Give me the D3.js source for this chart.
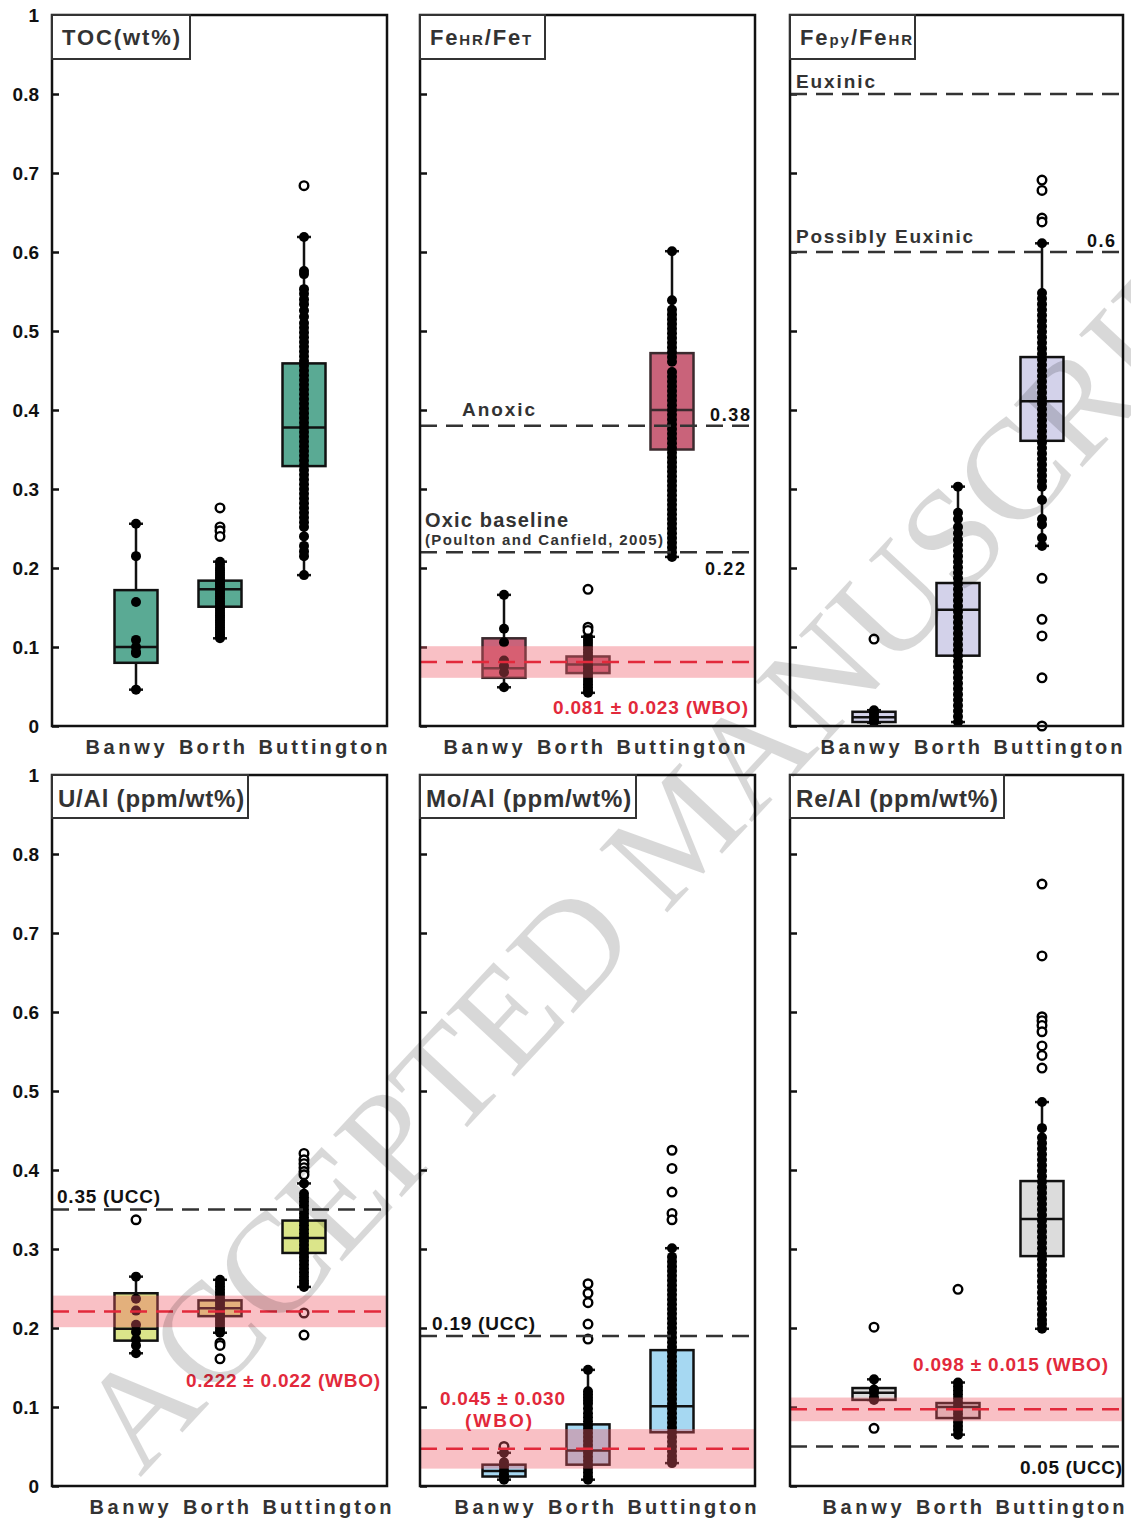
<!DOCTYPE html>
<html>
<head>
<meta charset="utf-8">
<script src="https://cdn.jsdelivr.net/npm/d3@7"></script>
<style>
body { margin: 0; background: #fff; }
svg { display: block; font-family: "Liberation Sans", Arial, sans-serif; font-weight: bold; }
</style>
</head>
<body>
<div id="chart"></div>
<script>
// categories and axis
var sites = ["Banwy", "Borth", "Buttington"];
var yTicks = [0, 0.1, 0.2, 0.3, 0.4, 0.5, 0.6, 0.7, 0.8, 0.9];
var yTickLabels = ["0", "0.1", "0.2", "0.3", "0.4", "0.5", "0.6", "0.7", "0.8", "1"];

// box stats per site: [q1, median, q3, whisker low, whisker high]
var tocBox = [[0.080, 0.100, 0.172, 0.046, 0.256], [0.151, 0.173, 0.184, 0.111, 0.208], [0.329, 0.378, 0.459, 0.191, 0.619]];
var tocDots = [
    [0.256, 0.215, 0.157, 0.109, 0.100, 0.094, 0.092, 0.046],
    [0.208, 0.204, 0.200, 0.197, 0.194, 0.191, 0.188, 0.185, 0.182, 0.179, 0.176, 0.173, 0.170, 0.167, 0.164, 0.161, 0.158, 0.155, 0.152, 0.149, 0.146, 0.143, 0.140, 0.137, 0.134, 0.131, 0.128, 0.125, 0.122, 0.119, 0.116, 0.113, 0.111],
    [0.619, 0.576, 0.572, 0.553, 0.547, 0.540, 0.534, 0.526, 0.518, 0.510, 0.504, 0.498, 0.492, 0.486, 0.480, 0.474, 0.468, 0.462, 0.456, 0.450, 0.444, 0.438, 0.432, 0.426, 0.420, 0.414, 0.408, 0.402, 0.396, 0.390, 0.384, 0.378, 0.372, 0.366, 0.360, 0.354, 0.348, 0.342, 0.336, 0.330, 0.324, 0.318, 0.312, 0.306, 0.300, 0.294, 0.288, 0.282, 0.276, 0.270, 0.264, 0.258, 0.252, 0.240, 0.228, 0.221, 0.215, 0.191]
];
var tocOut = [[], [0.276, 0.252, 0.247, 0.240], [0.684]];

var feBox = [[0.061, 0.073, 0.111, 0.049, 0.166], [0.067, 0.078, 0.088, 0.042, 0.113], [0.350, 0.400, 0.472, 0.214, 0.601]];
var feDots = [
    [0.166, 0.123, 0.106, 0.083, 0.076, 0.068, 0.049],
    [0.113, 0.109, 0.105, 0.101, 0.097, 0.093, 0.089, 0.085, 0.081, 0.077, 0.073, 0.069, 0.065, 0.061, 0.057, 0.053, 0.049, 0.045, 0.042],
    [0.601, 0.539, 0.527, 0.521, 0.515, 0.509, 0.503, 0.497, 0.491, 0.485, 0.479, 0.473, 0.467, 0.461, 0.448, 0.442, 0.436, 0.430, 0.424, 0.418, 0.412, 0.406, 0.400, 0.394, 0.388, 0.382, 0.376, 0.370, 0.364, 0.358, 0.352, 0.346, 0.340, 0.334, 0.328, 0.322, 0.316, 0.310, 0.304, 0.298, 0.292, 0.286, 0.280, 0.274, 0.268, 0.262, 0.256, 0.250, 0.244, 0.238, 0.232, 0.226, 0.220, 0.214]
];
var feOut = [[], [0.173, 0.125, 0.121], []];

var pyBox = [[0.005, 0.011, 0.018, 0.004, 0.020], [0.089, 0.147, 0.181, 0.005, 0.303], [0.361, 0.411, 0.467, 0.228, 0.611]];
var pyDots = [
    [0.020, 0.016, 0.012, 0.008, 0.005],
    [0.303, 0.270, 0.262, 0.252, 0.244, 0.236, 0.229, 0.222, 0.215, 0.208, 0.201, 0.194, 0.187, 0.180, 0.173, 0.166, 0.159, 0.152, 0.145, 0.138, 0.131, 0.124, 0.117, 0.110, 0.103, 0.096, 0.089, 0.082, 0.075, 0.068, 0.061, 0.054, 0.047, 0.040, 0.033, 0.026, 0.019, 0.012, 0.005],
    [0.611, 0.548, 0.541, 0.534, 0.527, 0.520, 0.513, 0.506, 0.499, 0.492, 0.485, 0.478, 0.471, 0.464, 0.457, 0.450, 0.443, 0.436, 0.429, 0.422, 0.415, 0.408, 0.401, 0.394, 0.387, 0.380, 0.373, 0.366, 0.359, 0.352, 0.345, 0.338, 0.331, 0.324, 0.317, 0.310, 0.303, 0.286, 0.262, 0.255, 0.238, 0.228]
];
var pyOut = [[0.110], [], [0.691, 0.678, 0.643, 0.638, 0.187, 0.135, 0.114, 0.061, 0.000]];

var uBox = [[0.184, 0.199, 0.244, 0.168, 0.265], [0.215, 0.225, 0.235, 0.194, 0.261], [0.295, 0.314, 0.336, 0.252, 0.383]];
var uDots = [
    [0.265, 0.237, 0.222, 0.204, 0.195, 0.185, 0.178, 0.168],
    [0.261, 0.257, 0.253, 0.249, 0.245, 0.241, 0.237, 0.233, 0.229, 0.225, 0.221, 0.217, 0.213, 0.209, 0.205, 0.201, 0.197, 0.194],
    [0.383, 0.370, 0.365, 0.360, 0.355, 0.350, 0.345, 0.340, 0.335, 0.330, 0.325, 0.320, 0.315, 0.310, 0.305, 0.300, 0.295, 0.290, 0.285, 0.280, 0.275, 0.270, 0.265, 0.260, 0.256, 0.252]
];
var uOut = [[0.337], [0.181, 0.178, 0.161], [0.421, 0.413, 0.408, 0.403, 0.398, 0.394, 0.219, 0.191]];

var moBox = [[0.012, 0.019, 0.027, 0.008, 0.042], [0.027, 0.045, 0.078, 0.008, 0.147], [0.068, 0.101, 0.172, 0.029, 0.301]];
var moDots = [
    [0.042, 0.030, 0.025, 0.020, 0.015, 0.010, 0.008],
    [0.147, 0.120, 0.116, 0.112, 0.108, 0.104, 0.098, 0.092, 0.087, 0.082, 0.077, 0.072, 0.067, 0.062, 0.057, 0.052, 0.047, 0.042, 0.037, 0.032, 0.027, 0.022, 0.017, 0.012, 0.008],
    [0.301, 0.290, 0.284, 0.278, 0.272, 0.266, 0.260, 0.254, 0.248, 0.242, 0.236, 0.230, 0.224, 0.218, 0.212, 0.206, 0.200, 0.194, 0.188, 0.182, 0.176, 0.170, 0.164, 0.158, 0.152, 0.146, 0.140, 0.134, 0.128, 0.122, 0.116, 0.110, 0.104, 0.098, 0.092, 0.086, 0.080, 0.074, 0.068, 0.062, 0.056, 0.050, 0.044, 0.038, 0.033, 0.029]
];
var moOut = [[0.050], [0.256, 0.244, 0.232, 0.205, 0.186], [0.425, 0.402, 0.372, 0.345, 0.337]];

var reBox = [[0.109, 0.118, 0.124, 0.109, 0.135], [0.086, 0.100, 0.105, 0.065, 0.131], [0.291, 0.338, 0.386, 0.199, 0.486]];
var reDots = [
    [0.135, 0.122, 0.118, 0.112, 0.109],
    [0.131, 0.126, 0.121, 0.116, 0.111, 0.106, 0.101, 0.096, 0.091, 0.086, 0.081, 0.076, 0.071, 0.065],
    [0.486, 0.453, 0.441, 0.434, 0.427, 0.420, 0.413, 0.406, 0.399, 0.392, 0.385, 0.378, 0.371, 0.364, 0.357, 0.350, 0.343, 0.336, 0.329, 0.322, 0.315, 0.308, 0.301, 0.294, 0.287, 0.280, 0.273, 0.266, 0.259, 0.252, 0.245, 0.238, 0.231, 0.224, 0.217, 0.210, 0.205, 0.199]
];
var reOut = [[0.201, 0.073], [0.249], [0.762, 0.671, 0.594, 0.589, 0.583, 0.575, 0.557, 0.545, 0.529]];

// reference values
var feThresholds = [0.38, 0.22];
var pyThresholds = [0.8, 0.6];
var uUCC = 0.35, moUCC = 0.19, reUCC = 0.05;
// WBO bands as drawn: [centre, half width]
var feWBO = [0.081, 0.020], uWBO = [0.221, 0.020], moWBO = [0.047, 0.025], reWBO = [0.097, 0.015];

var red = "#e2293b", ink = "#111", grey = "#333";

var panels = [
    {row: 0, col: 0, title: [["TOC(wt%)", 0]], tw: 138, tt: 120, fill: "#5aaa94", stroke: "#111",
     box: tocBox, dots: tocDots, out: tocOut, lines: [], band: null, notes: [], shift: 1},
    {row: 0, col: 1, title: [["Fe", 0], ["HR", 1], ["/Fe", 0], ["T", 1]], tw: 125, tt: 103, fill: "#c9637a", stroke: "#3b2a2e",
     box: feBox, dots: feDots, out: feOut, lines: feThresholds, band: feWBO, shift: -9,
     notes: [
        {t: "Anoxic", x: 42, v: 0.38, dy: -10, w: 73, fs: 19, c: grey},
        {t: "0.38", x: 330, v: 0.38, dy: -5, w: 40, fs: 18, c: ink, end: true},
        {t: "Oxic baseline", x: 5, v: 0.22, dy: -25, w: 143, fs: 20, c: grey},
        {t: "(Poulton and Canfield, 2005)", x: 5, v: 0.22, dy: -7, w: 238, fs: 15, c: grey},
        {t: "0.22", x: 325, v: 0.22, dy: 23, w: 40, fs: 18, c: ink, end: true},
        {t: "0.081 ± 0.023 (WBO)", x: 133, v: 0, dy: -12, w: 195, fs: 19, c: red}
     ]},
    {row: 0, col: 2, title: [["Fe", 0], ["py", 1], ["/Fe", 0], ["HR", 1]], tw: 125, tt: 114, fill: "#d3d2ea", stroke: "#111",
     box: pyBox, dots: pyDots, out: pyOut, lines: pyThresholds, band: null, shift: -2,
     notes: [
        {t: "Euxinic", x: 6, v: 0.8, dy: -6, w: 79, fs: 19, c: grey},
        {t: "Possibly Euxinic", x: 6, v: 0.6, dy: -9, w: 177, fs: 19, c: grey},
        {t: "0.6", x: 325, v: 0.6, dy: -5, w: 28, fs: 18, c: ink, end: true}
     ]},
    {row: 1, col: 0, title: [["U/Al (ppm/wt%)", 0]], tw: 196, tt: 187, fill: "#dbe58a", stroke: "#111",
     box: uBox, dots: uDots, out: uOut, lines: [uUCC], band: uWBO, shift: 5,
     notes: [
        {t: "0.35 (UCC)", x: 5, v: 0.35, dy: -7, w: 103, fs: 19, c: ink},
        {t: "0.222 ± 0.022 (WBO)", x: 134, v: 0.222, dy: 76, w: 194, fs: 19, c: red}
     ]},
    {row: 1, col: 1, title: [["Mo/Al (ppm/wt%)", 0]], tw: 216, tt: 206, fill: "#a6d8f2", stroke: "#111",
     box: moBox, dots: moDots, out: moOut, lines: [moUCC], band: moWBO, shift: 2,
     notes: [
        {t: "0.19 (UCC)", x: 12, v: 0.19, dy: -6, w: 103, fs: 19, c: ink},
        {t: "0.045 ± 0.030", x: 20, v: 0.045, dy: -45, w: 125, fs: 19, c: red},
        {t: "(WBO)", x: 45, v: 0.045, dy: -23, w: 67, fs: 19, c: red}
     ]},
    {row: 1, col: 2, title: [["Re/Al (ppm/wt%)", 0]], tw: 214, tt: 203, fill: "#dcdcdc", stroke: "#111",
     box: reBox, dots: reDots, out: reOut, lines: [reUCC], band: reWBO, shift: 0,
     notes: [
        {t: "0.098 ± 0.015 (WBO)", x: 123, v: 0.098, dy: -38, w: 195, fs: 19, c: red},
        {t: "0.05 (UCC)", x: 332, v: 0.05, dy: 27, w: 102, fs: 19, c: ink, end: true}
     ]}
];

var width = 1131, height = 1523;
var colX = [52, 420, 790], colW = [335, 335, 333];
var rowY = [15, 775], rowH = 711;
// x label centres (relative to panel left) and widths
var labelX = [72, 159, 270], labelW = [79, 66, 129];

var svg = d3.select("#chart").append("svg")
    .attr("width", width)
    .attr("height", height);

panels.forEach(function(p){
    var left = colX[p.col], top = rowY[p.row], w = colW[p.col], bottom = top + rowH;
    var y = d3.scaleLinear().domain([0, 0.9]).range([bottom, top]);
    var x = d3.scalePoint().domain(sites).range([left + 84, left + 252]);
    var g = svg.append("g");

    //axis with inward ticks, labels only on first column
    var ax = g.append("g")
        .attr("transform", "translate(" + left + ",0)")
        .call(d3.axisLeft(y).tickValues(yTicks).tickSize(-7).tickPadding(13)
            .tickFormat(function(d, i){ return p.col == 0 ? yTickLabels[i] : ""; }));
    ax.select(".domain").remove();
    ax.attr("font-family", null).attr("font-size", 19);
    ax.selectAll("line").attr("stroke", ink).attr("stroke-width", 2.5);
    ax.selectAll("text").attr("fill", ink).attr("font-weight", "bold");

    //boxes, whiskers, points
    sites.forEach(function(s, i){
        var b = p.box[i], cx = x(s);
        g.append("line")
            .attr("x1", cx).attr("x2", cx)
            .attr("y1", y(b[3])).attr("y2", y(b[4]))
            .attr("stroke", ink).attr("stroke-width", 2.5);
        [b[3], b[4]].forEach(function(v){
            g.append("line")
                .attr("x1", cx - 7).attr("x2", cx + 7)
                .attr("y1", y(v)).attr("y2", y(v))
                .attr("stroke", ink).attr("stroke-width", 2.5);
        });
        g.append("rect")
            .attr("x", cx - 21.5).attr("width", 43)
            .attr("y", y(b[2])).attr("height", y(b[0]) - y(b[2]))
            .attr("fill", p.fill)
            .attr("stroke", p.stroke).attr("stroke-width", 2.5);
        g.append("line")
            .attr("x1", cx - 21.5).attr("x2", cx + 21.5)
            .attr("y1", y(b[1])).attr("y2", y(b[1]))
            .attr("stroke", p.stroke).attr("stroke-width", 2.5);
        g.selectAll(null)
            .data(p.dots[i])
            .enter()
            .append("circle")
            .attr("cx", cx).attr("cy", function(d){ return y(d); })
            .attr("r", 5)
            .attr("fill", "#000");
        g.selectAll(null)
            .data(p.out[i])
            .enter()
            .append("circle")
            .attr("cx", cx).attr("cy", function(d){ return y(d); })
            .attr("r", 4.3)
            .attr("fill", "#fff")
            .attr("stroke", "#000").attr("stroke-width", 2.4);
    });

    //WBO band
    if (p.band){
        g.append("rect")
            .attr("x", left).attr("width", w)
            .attr("y", y(p.band[0] + p.band[1]))
            .attr("height", y(p.band[0] - p.band[1]) - y(p.band[0] + p.band[1]))
            .attr("fill", "#ee5a66").attr("opacity", 0.38);
        g.append("line")
            .attr("x1", left).attr("x2", left + w)
            .attr("y1", y(p.band[0])).attr("y2", y(p.band[0]))
            .attr("stroke", red).attr("stroke-width", 2.5)
            .attr("stroke-dasharray", "17,9");
    }

    //threshold lines
    g.selectAll(null)
        .data(p.lines)
        .enter()
        .append("line")
        .attr("x1", left).attr("x2", left + w)
        .attr("y1", function(d){ return y(d); }).attr("y2", function(d){ return y(d); })
        .attr("stroke", grey).attr("stroke-width", 2.5)
        .attr("stroke-dasharray", "17,9");

    //frame
    g.append("rect")
        .attr("x", left).attr("y", top)
        .attr("width", w).attr("height", rowH)
        .attr("fill", "none")
        .attr("stroke", ink).attr("stroke-width", 2.5);

    //title box
    g.append("rect")
        .attr("x", left).attr("y", top)
        .attr("width", p.tw).attr("height", p.row == 0 ? 44 : 43)
        .attr("fill", "#fff")
        .attr("stroke", grey).attr("stroke-width", 2);
    var title = g.append("text")
        .attr("x", left + (p.row == 0 ? 10 : 6))
        .attr("y", top + (p.row == 0 ? 30 : 32))
        .attr("fill", grey)
        .attr("font-size", p.row == 0 ? 22 : 24);
    p.title.forEach(function(seg){
        title.append("tspan")
            .attr("font-size", seg[1] ? 15 : null)
            .text(seg[0]);
    });
    var nChars = title.text().length;
    var natural = title.node().getComputedTextLength();
    title.style("letter-spacing", ((p.tt - natural) / nChars) + "px");

    //x labels
    sites.forEach(function(s, i){
        g.append("text")
            .attr("x", left + labelX[i] + p.shift)
            .attr("y", bottom + 28)
            .attr("text-anchor", "middle")
            .attr("font-size", 20)
            .attr("fill", grey)
            .attr("textLength", labelW[i])
            .attr("lengthAdjust", "spacing")
            .text(s);
    });

    //annotations
    p.notes.forEach(function(n){
        g.append("text")
            .attr("x", left + n.x)
            .attr("y", y(n.v) + n.dy)
            .attr("text-anchor", n.end ? "end" : "start")
            .attr("font-size", n.fs)
            .attr("fill", n.c)
            .attr("textLength", n.w)
            .attr("lengthAdjust", "spacing")
            .text(n.t);
    });
});

//watermark
svg.append("text")
    .attr("transform", "translate(140,1478) rotate(-47)")
    .attr("font-family", "'Liberation Serif', 'DejaVu Serif', serif")
    .attr("font-weight", "normal")
    .attr("font-size", 142)
    .attr("fill", "#000")
    .attr("opacity", 0.15)
    .text("ACCEPTED MANUSCRIPT");
</script>
</body>
</html>
